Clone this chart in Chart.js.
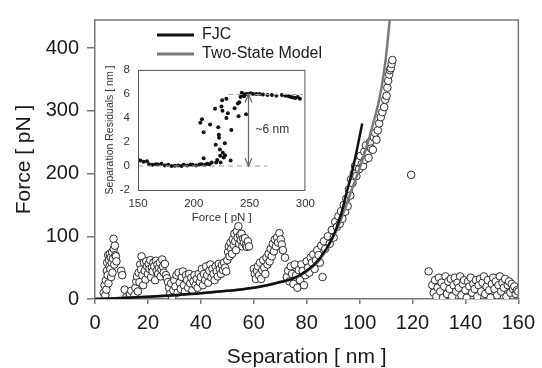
<!DOCTYPE html>
<html>
<head>
<meta charset="utf-8">
<script src="https://cdn.jsdelivr.net/npm/chart.js@4.4.1/dist/chart.umd.min.js"></script>
<style>
  body { margin: 0; background: #fff; }
  #wrap { position: relative; width: 542px; height: 368px; }
  #main { position: absolute; left: 0; top: 0; }
  #inset { position: absolute; left: 100px; top: 55px; }
</style>
</head>
<body>
<div id="wrap">
  <canvas id="main" width="542" height="368"></canvas>
  <canvas id="inset" width="222" height="170"></canvas>
</div>
<script>
// main trace, [separation nm, force pN]
var firstPeak = [[3.3,10],[3.6,22],[3.9,6],[4.1,30],[4.3,15],[4.5,45],[4.6,58],[4.8,38],[5.0,70],[5.1,25],[5.3,62],[5.5,52],[5.6,72],[5.8,48],[6.0,66],[6.1,35],[6.3,58],[6.5,75],[6.6,42],[6.8,64],[7.0,96],[7.1,80],[7.3,55],[7.5,85],[7.7,70],[7.9,68],[8.1,60],[9.9,45],[10.3,38],[11.2,15],[11.8,3],[12.5,0],[13.2,8],[13.7,13],[14.3,0],[14.9,6]];
var secondPeak = [[15.3,18],[15.6,28],[15.9,36],[16.2,12],[16.5,42],[16.8,27],[17.1,55],[17.4,47],[17.6,68],[17.9,38],[18.2,22],[18.5,58],[18.8,45],[19.1,31],[19.4,60],[19.7,52],[20.0,40],[20.3,56],[20.6,48],[20.9,62],[21.2,35],[21.5,50],[21.8,44],[22.1,58],[22.4,52],[22.7,30],[23.0,61],[23.3,45],[23.6,55],[23.9,40],[24.2,50],[24.5,58],[24.8,36],[25.1,47],[25.4,63],[25.7,52],[26.0,42],[26.4,56],[26.8,38],[27.2,33],[27.6,27]];
var thirdRise = [[28.0,18],[28.4,8],[28.8,25],[29.2,3],[29.6,14],[30.0,30],[30.4,20],[30.8,38],[31.2,10],[31.6,42],[32.0,26],[32.4,16],[32.8,35],[33.2,44],[33.6,22],[34.0,12],[34.4,38],[34.8,30],[35.2,18],[35.6,40],[36.0,25],[36.4,34],[36.8,14],[37.2,28],[37.6,38],[38.0,22],[38.4,32],[38.8,18],[39.2,40],[39.6,27],[40.0,35],[40.4,48],[40.8,22],[41.2,40],[41.6,30],[42.0,52],[42.4,38],[42.8,26],[43.2,45],[43.6,55],[44.0,34],[44.4,48],[44.8,40],[45.2,30],[45.6,52],[46.0,44],[46.4,36],[46.8,56],[47.2,48],[47.6,40],[48.0,54],[48.4,46],[48.8,58],[49.2,50],[49.6,44]];
var thirdPeak = [[50.0,62],[50.3,75],[50.6,84],[50.9,68],[51.2,90],[51.5,80],[51.8,72],[52.1,95],[52.4,86],[52.7,104],[53.0,92],[53.3,78],[53.6,108],[53.9,98],[54.2,116],[54.5,88],[54.8,102],[55.1,94],[55.4,104],[55.7,84],[56.0,96],[56.3,90],[56.7,97],[57.0,86],[57.4,83],[57.8,92],[58.2,84]];
var fourthPeak = [[60.0,48],[60.4,40],[60.8,32],[61.2,45],[61.6,52],[62.0,38],[62.4,58],[62.8,32],[63.2,46],[63.6,62],[64.0,50],[64.4,40],[64.8,66],[65.2,55],[65.6,72],[66.0,60],[66.4,80],[66.8,68],[67.2,88],[67.6,76],[68.0,95],[68.4,84],[68.8,98],[69.2,90],[69.7,105],[70.2,95],[70.6,87],[71.0,78],[71.8,66]];
var finalStretch = [[72.5,35],[73.0,45],[73.5,28],[74.0,52],[74.5,40],[75.0,24],[75.5,55],[76.0,38],[76.5,18],[77.0,46],[77.5,30],[78.0,55],[78.5,45],[79.0,22],[79.5,38],[80.0,60],[80.5,50],[81.0,42],[81.5,66],[82.0,58],[82.5,71],[83.0,48],[83.5,62],[84.0,78],[84.5,70],[85.0,58],[85.5,85],[86.0,35],[86.5,92],[87.0,80],[88.0,100],[88.7,88],[89.5,110],[90.2,98],[90.8,123],[91.4,115],[92.0,132],[92.5,120],[93.0,140],[93.5,128],[94.0,150],[94.5,139],[95.0,160],[95.5,148],[96.0,175],[96.5,165],[96.8,191],[97.3,185],[97.8,200],[98.3,212],[98.8,196],[99.3,218],[99.8,207],[100.3,228],[100.8,215],[101.3,212],[101.8,235],[102.0,222],[102.4,245],[102.9,232],[103.4,225],[103.9,250],[104.4,240],[105.0,238],[105.4,258],[105.9,265],[106.4,254],[106.9,269],[107.4,280],[108.0,290],[108.6,298],[109.3,306],[109.7,318],[110.2,324],[110.5,337],[110.8,348],[111.2,358],[111.5,365],[111.8,368],[112.1,375],[112.4,381]];
var afterRupture = [[119.5,198],[126.1,44],[127.5,22],[128.0,10],[128.5,30],[129.0,4],[129.5,18],[130.0,34],[130.5,12],[131.0,26],[131.5,2],[132.0,20],[132.5,36],[133.0,8],[133.5,28],[134.0,16],[134.5,32],[135.0,4],[135.5,22],[136.0,34],[136.5,12],[137.0,26],[137.5,18],[138.0,36],[138.5,6],[139.0,24],[139.5,30],[140.0,14],[140.5,2],[141.0,28],[141.5,20],[142.0,34],[142.5,10],[143.0,24],[143.5,16],[144.0,30],[144.5,4],[145.0,22],[145.5,32],[146.0,12],[146.5,26],[147.0,36],[147.5,8],[148.0,20],[148.5,30],[149.0,14],[149.5,2],[150.0,24],[150.5,34],[151.0,16],[151.5,28],[152.0,6],[152.5,22],[153.0,36],[153.5,12],[154.0,26],[154.5,18],[155.0,32],[155.5,4],[156.0,22],[156.5,28],[157.0,10],[157.5,24],[158.0,16],[158.5,20],[159.0,8],[159.5,14],[160.0,12]];

// fitted curves
var fjcSep = [0, 10, 20, 30, 40, 50, 60, 65, 70, 75, 80, 85, 90, 93, 95, 97, 99, 101];
var fjcForce = [0, 1.5, 3.5, 6, 9, 13, 18, 22, 27, 33, 45, 65, 100, 135, 168, 200, 238, 280];
var twoStateSep = [0, 10, 20, 30, 40, 50, 60, 65, 70, 75, 80, 85, 90, 93, 95, 97, 100, 103, 105, 107, 108.5, 109.8, 110.7, 111.5, 112];
var twoStateForce = [0, 1.5, 3.5, 6, 9, 13, 18, 22, 27, 33, 44, 63, 98, 127, 150, 174, 208, 248, 278, 310, 342, 380, 415, 450, 475];

var xTicks = [0, 20, 40, 60, 80, 100, 120, 140, 160];
var yTicks = [0, 100, 200, 300, 400];

// inset: [force pN, separation residual nm]
var residualsLow = [[150,0.5],[152,0.45],[155,0.35],[158,0.4],[160,0.15],[163,0.1],[166,0.15],[168,0.12],[171,0.18],[174,0.05],[177,0.1],[180,0.0],[183,0.02],[186,0.05],[189,0.0],[191,0.1],[194,0.05],[197,0.12],[199,0.1],[202,0.05],[205,0.12],[207,0.15],[210,0.1],[212,0.18],[214,0.15],[216,0.3]];
var residualsJump = [[205.8,3.6],[207.3,3.9],[208.8,2.8],[208.8,0.65],[214.6,3.45],[219,4.76],[219.6,1.77],[220,0.3],[221.9,3.23],[222.4,2.6],[222.6,2.35],[223.4,1.37],[223.6,0.85],[224.8,4.95],[225.4,5.48],[225.7,4.6],[226,1.1],[226.8,0.7],[227.8,1.9],[229.2,5.6],[229.2,4.0],[233,0.45],[233.6,3.0],[236.6,4.8],[239.5,5.2],[240.1,4.15],[240.8,5.3],[241.8,5.75],[243,6.0],[244.5,5.9],[246.8,4.3],[245,5.8],[221,0.5],[224,0.3],[228,0.9],[230.5,4.4]];
var residualsHigh = [[243,6.1],[245,5.95],[247,6.0],[249,6.0],[251,6.05],[253,6.0],[256,6.0],[259,6.0],[262,5.95],[266,5.9],[270,5.9],[274,5.85],[279,5.9],[282,5.85],[285,5.8],[287,5.75],[289,5.7],[291,5.65],[293,5.75],[295,5.6]];
var insetXTicks = [150, 200, 250, 300];
var insetYTicks = [-2, 0, 2, 4, 6, 8];
var lowLevel = [[150, 0], [266, 0]];
var highLevel = [[231, 5.95], [298, 5.95]];
var stepArrow = [[249, 0], [249, 5.95]];

var FONT = "'Liberation Sans', Arial, sans-serif";

function pairs(list) { return list.map(function (p) { return { x: p[0], y: p[1] }; }); }
function zipXY(xs, ys) { return xs.map(function (v, i) { return { x: v, y: ys[i] }; }); }

var trace = pairs([].concat(firstPeak, secondPeak, thirdRise, thirdPeak, fourthPeak, finalStretch, afterRupture));

var mainDecor = {
  id: 'mainDecor',
  afterDraw: function (chart) {
    var ctx = chart.ctx, a = chart.chartArea;
    ctx.save();
    ctx.strokeStyle = '#777';
    ctx.lineWidth = 1.5;
    ctx.beginPath();
    ctx.moveTo(a.left, a.top); ctx.lineTo(a.right, a.top); ctx.lineTo(a.right, a.bottom);
    ctx.stroke();
    // legend
    var lx = a.left + 62, ly = a.top + 15;
    ctx.lineWidth = 3;
    ctx.strokeStyle = '#111';
    ctx.beginPath(); ctx.moveTo(lx, ly); ctx.lineTo(lx + 37, ly); ctx.stroke();
    ctx.strokeStyle = '#7a7a7a';
    ctx.beginPath(); ctx.moveTo(lx, ly + 19); ctx.lineTo(lx + 37, ly + 19); ctx.stroke();
    ctx.fillStyle = '#1a1a1a';
    ctx.font = '16px ' + FONT;
    ctx.textBaseline = 'middle';
    ctx.fillText('FJC', lx + 45, ly);
    ctx.fillText('Two-State Model', lx + 45, ly + 19);
    ctx.restore();
  }
};

new Chart(document.getElementById('main').getContext('2d'), {
  type: 'scatter',
  data: {
    datasets: [
      { label: 'FJC', data: zipXY(fjcSep, fjcForce), showLine: true, borderColor: '#111', borderWidth: 2.5, pointRadius: 0, cubicInterpolationMode: 'monotone' },
      { label: 'Two-State Model', data: zipXY(twoStateSep, twoStateForce), showLine: true, borderColor: '#7a7a7a', borderWidth: 2.5, pointRadius: 0, cubicInterpolationMode: 'monotone' },
      { label: 'trace', data: trace, pointRadius: 3.8, pointBorderWidth: 1, pointBorderColor: '#2b2b2b', pointBackgroundColor: '#fff' }
    ]
  },
  options: {
    responsive: false,
    animation: false,
    layout: { padding: { left: 0, right: 20, top: 14, bottom: 0 } },
    plugins: { legend: { display: false }, tooltip: { enabled: false } },
    scales: {
      x: {
        type: 'linear', min: 0, max: 160,
        afterFit: function (s) { s.height = 69; },
        afterBuildTicks: function (s) { s.ticks = xTicks.map(function (v) { return { value: v }; }); },
        grid: { drawOnChartArea: false, drawTicks: true, tickLength: 5, color: '#777', lineWidth: 1.5 },
        border: { color: '#777', width: 1.5 },
        ticks: { padding: 7, color: '#1a1a1a', maxRotation: 0, font: { family: FONT, size: 20 } },
        title: { display: true, text: 'Separation [ nm ]', color: '#1a1a1a', font: { family: FONT, size: 21, lineHeight: 1 }, padding: { top: 0, bottom: 0 } }
      },
      y: {
        type: 'linear', min: 0, max: 445,
        afterFit: function (s) { s.width = 95; },
        afterBuildTicks: function (s) { s.ticks = yTicks.map(function (v) { return { value: v }; }); },
        grid: { drawOnChartArea: false, drawTicks: true, tickLength: 8, color: '#777', lineWidth: 1.5 },
        border: { color: '#777', width: 1.5 },
        ticks: { padding: 8, color: '#1a1a1a', font: { family: FONT, size: 20 } },
        title: { display: true, text: 'Force [ pN ]', color: '#1a1a1a', font: { family: FONT, size: 21, lineHeight: 1 }, padding: { top: 13.5, bottom: 0 } }
      }
    }
  },
  plugins: [mainDecor]
});

var insetDecor = {
  id: 'insetDecor',
  beforeDraw: function (chart) {
    var ctx = chart.ctx, a = chart.chartArea;
    ctx.save();
    ctx.fillStyle = '#fff';
    ctx.fillRect(a.left, a.top, a.right - a.left, a.bottom - a.top);
    ctx.restore();
  },
  afterDraw: function (chart) {
    var ctx = chart.ctx, a = chart.chartArea, sx = chart.scales.x, sy = chart.scales.y;
    ctx.save();
    ctx.strokeStyle = '#555';
    ctx.lineWidth = 1;
    ctx.strokeRect(a.left + 0.5, a.top + 0.5, a.right - a.left - 1, a.bottom - a.top);
    // arrow heads
    var px = sx.getPixelForValue(stepArrow[0][0]);
    var top = sy.getPixelForValue(stepArrow[1][1]);
    var bot = sy.getPixelForValue(stepArrow[0][1]);
    ctx.strokeStyle = '#666';
    ctx.lineWidth = 1.2;
    ctx.beginPath();
    ctx.moveTo(px - 3.5, top + 8); ctx.lineTo(px, top); ctx.lineTo(px + 3.5, top + 8);
    ctx.moveTo(px - 3.5, bot - 8); ctx.lineTo(px, bot); ctx.lineTo(px + 3.5, bot - 8);
    ctx.stroke();
    ctx.fillStyle = '#333';
    ctx.font = '12px ' + FONT;
    ctx.textBaseline = 'middle';
    ctx.fillText('~6 nm', sx.getPixelForValue(255.3), sy.getPixelForValue(3.04));
    ctx.restore();
  }
};

new Chart(document.getElementById('inset').getContext('2d'), {
  type: 'scatter',
  data: {
    datasets: [
      { data: pairs(lowLevel), showLine: true, borderColor: '#a0a0a0', borderWidth: 1, borderDash: [5, 4], pointRadius: 0 },
      { data: pairs(highLevel), showLine: true, borderColor: '#a0a0a0', borderWidth: 1, borderDash: [5, 4], pointRadius: 0 },
      { data: pairs(stepArrow), showLine: true, borderColor: '#666', borderWidth: 1.2, pointRadius: 0 },
      { data: pairs([].concat(residualsLow, residualsJump, residualsHigh)), pointRadius: 2, pointBorderWidth: 0, pointBackgroundColor: '#111' }
    ]
  },
  options: {
    responsive: false,
    animation: false,
    layout: { padding: { left: 0, right: 13, top: 8, bottom: 0 } },
    plugins: { legend: { display: false }, tooltip: { enabled: false } },
    scales: {
      x: {
        type: 'linear', min: 150, max: 300,
        afterFit: function (s) { s.height = 35; },
        afterBuildTicks: function (s) { s.ticks = insetXTicks.map(function (v) { return { value: v }; }); },
        grid: { display: false, drawTicks: false },
        border: { display: false },
        ticks: { padding: 7, color: '#333', maxRotation: 0, font: { family: FONT, size: 11.5 } },
        title: { display: true, text: 'Force [ pN ]', color: '#333', font: { family: FONT, size: 11.5, lineHeight: 1 }, padding: { top: 0, bottom: 1.5 } }
      },
      y: {
        type: 'linear', min: -2, max: 8,
        afterFit: function (s) { s.width = 38; },
        afterBuildTicks: function (s) { s.ticks = insetYTicks.map(function (v) { return { value: v }; }); },
        grid: { display: false, drawTicks: false },
        border: { display: false },
        ticks: { padding: 8, color: '#333', font: { family: FONT, size: 11.5 } },
        title: { display: true, text: 'Separation Residuals [ nm ]', color: '#333', font: { family: FONT, size: 10.5, lineHeight: 1 }, padding: { top: 4.5, bottom: 0 } }
      }
    }
  },
  plugins: [insetDecor]
});
</script>
</body>
</html>
